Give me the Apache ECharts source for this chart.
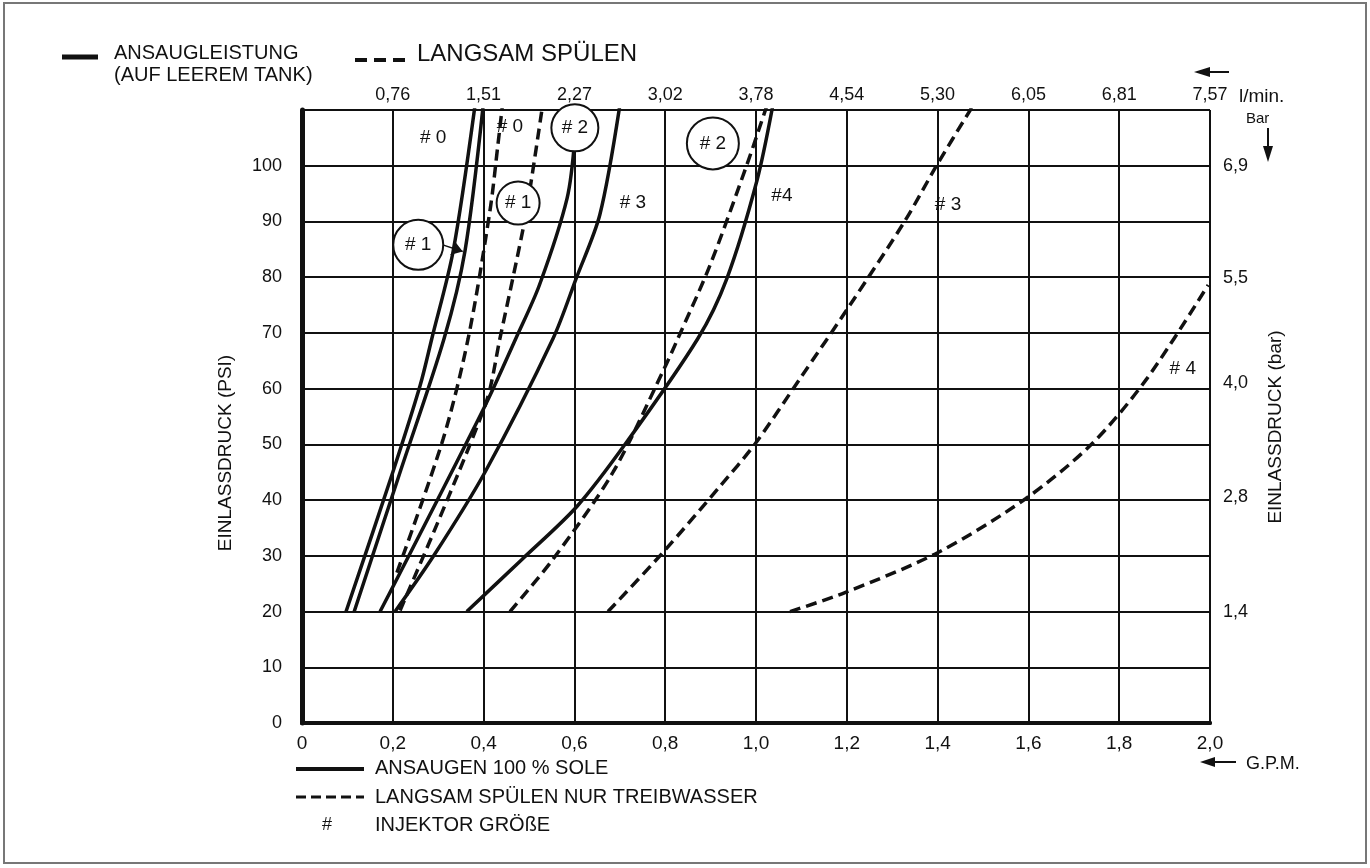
<!DOCTYPE html>
<html>
<head>
<meta charset="utf-8">
<style>
  html, body { margin: 0; padding: 0; background: #fff; }
  #chart { width: 1370px; height: 868px; }
</style>
<script src="https://cdn.jsdelivr.net/npm/echarts@6.0.0/dist/echarts.min.js"></script>
</head>
<body>
<div id="chart"></div>
<script>
// G.P.M. on x, PSI on y
var topTickLabels = ['0,76', '1,51', '2,27', '3,02', '3,78', '4,54', '5,30', '6,05', '6,81', '7,57']
var barTickPsi = [20, 40.6, 61, 79.8, 100]
var barTickLabels = ['1,4', '2,8', '4,0', '5,5', '6,9']

// ansaugen 100 % sole (solid)
var solid0 = [[0.097, 20], [0.200, 45], [0.260, 60.5], [0.286, 69], [0.333, 84.7], [0.381, 110.8]]
var solid1 = [[0.115, 20], [0.216, 45], [0.313, 69], [0.359, 84.7], [0.399, 110.8]]
var solid2 = [[0.172, 20], [0.403, 56.9], [0.471, 69], [0.523, 78.6], [0.584, 94.2], [0.601, 105]]
var solid3 = [[0.205, 20], [0.290, 30], [0.403, 45], [0.553, 69], [0.604, 79.8], [0.656, 91.2], [0.700, 110.8]]
var solid4 = [[0.363, 20], [0.485, 29.4], [0.606, 38.9], [0.716, 50.5], [0.872, 69], [0.936, 79.8], [1.002, 97.3], [1.037, 110.8]]

// langsam spuelen nur treibwasser (dashed)
var dash0 = [[0.209, 27], [0.311, 51], [0.366, 69], [0.414, 91.9], [0.432, 104.1], [0.441, 110.5]]
var dash1 = [[0.216, 20.2], [0.403, 56.9], [0.436, 69], [0.491, 90.3], [0.505, 97.3], [0.529, 110.3]]
var dash2 = [[0.458, 20], [0.553, 29.4], [0.685, 45], [0.795, 63.1], [0.828, 69], [0.899, 82.2], [0.980, 100.2], [1.024, 110.8]]
var dash3 = [[0.674, 20], [0.795, 30.6], [0.921, 42.5], [0.998, 50.1], [1.097, 61.8], [1.207, 75], [1.328, 90.1], [1.399, 100.2], [1.478, 110.8]]
var dash4 = [[1.075, 20], [1.196, 23.4], [1.401, 30.6], [1.593, 40.2], [1.740, 50.1], [1.861, 61.8], [1.996, 78.6]]

// injektor groesse labels
var sizeLabels = ['# 0', '# 0', '# 3', '#4', '# 3', '# 4']
var sizeLabelPos = [[0.289, 105], [0.458, 107], [0.729, 93.3], [1.057, 94.6], [1.423, 93], [1.940, 63.6]]
var circleLabels = ['# 2', '# 1', '# 1', '# 2']
var circlePos = [[0.601, 106.8], [0.476, 93.3], [0.256, 85.8], [0.905, 104]]
var circleSize = [47, 43, 50, 52]
var arrowLine = [[0.310, 85.8], [0.354, 84.6]]

var FONT = '"Liberation Sans", Arial, sans-serif'
var INK = '#111'

function curve(name, data, dashed) {
  return {
    name: name,
    type: 'line',
    data: data,
    smooth: 0.3,
    showSymbol: false,
    symbol: 'none',
    clip: true,
    z: 3,
    lineStyle: { color: INK, width: 3.5, type: dashed ? [11, 6] : 'solid', cap: 'butt' }
  }
}

var chart = echarts.init(document.getElementById('chart'))

chart.setOption({
  backgroundColor: '#fff',
  animation: false,
  textStyle: { fontFamily: FONT, color: INK },
  grid: { left: 302, right: 160, top: 110, bottom: 145, show: false },
  xAxis: [{
    type: 'value', min: 0, max: 2, interval: 0.2, position: 'bottom',
    axisLine: { show: true, lineStyle: { color: INK, width: 4 } },
    axisTick: { show: false },
    splitLine: { show: true, lineStyle: { color: INK, width: 2 } },
    axisLabel: {
      margin: 11, fontSize: 19, color: INK, fontFamily: FONT,
      formatter: function (v) { return v === 0 ? '0' : v.toFixed(1).replace('.', ',') }
    }
  }, {
    type: 'value', min: 0, max: 2, interval: 0.2, position: 'top',
    axisLine: { show: true, lineStyle: { color: INK, width: 4 } },
    axisTick: { show: false },
    splitLine: { show: false },
    axisLabel: {
      margin: 6, fontSize: 18, color: INK, fontFamily: FONT,
      formatter: function (v) {
        var i = Math.round(v / 0.2)
        return i > 0 ? topTickLabels[i - 1] : ''
      }
    }
  }],
  yAxis: [{
    type: 'value', min: 0, max: 110, interval: 10, position: 'left',
    axisLine: { show: true, lineStyle: { color: INK, width: 5 } },
    axisTick: { show: false },
    splitLine: { show: true, lineStyle: { color: INK, width: 2 } },
    axisLabel: {
      margin: 20, fontSize: 18, color: INK, fontFamily: FONT,
      formatter: function (v) { return v > 100 ? '' : String(v) }
    }
  }, {
    type: 'value', min: 0, max: 110, position: 'right',
    axisLine: { show: true, lineStyle: { color: INK, width: 3 } },
    axisTick: { show: false },
    splitLine: { show: false },
    axisLabel: {
      margin: 13, fontSize: 18, color: INK, fontFamily: FONT,
      customValues: barTickPsi,
      formatter: function (v) {
        var i = barTickPsi.indexOf(v)
        return i >= 0 ? barTickLabels[i] : ''
      }
    }
  }],
  series: [
    curve('#0', solid0, false),
    curve('#1', solid1, false),
    curve('#2', solid2, false),
    curve('#3', solid3, false),
    curve('#4', solid4, false),
    curve('#0 spuelen', dash0, true),
    curve('#1 spuelen', dash1, true),
    curve('#2 spuelen', dash2, true),
    curve('#3 spuelen', dash3, true),
    curve('#4 spuelen', dash4, true),
    {
      type: 'scatter', z: 6, symbolSize: 1, itemStyle: { color: 'rgba(0,0,0,0)', opacity: 1 },
      data: sizeLabelPos.map(function (p, i) { return { value: p, name: sizeLabels[i] } }),
      label: {
        show: true, position: 'inside', formatter: '{b}',
        fontSize: 19, color: INK, fontFamily: FONT
      }
    },
    {
      type: 'scatter', z: 8,
      data: circlePos.map(function (p, i) {
        return { value: p, name: circleLabels[i], symbolSize: circleSize[i] }
      }),
      itemStyle: { color: '#fff', borderColor: INK, borderWidth: 2, opacity: 1 },
      label: {
        show: true, position: 'inside', formatter: '{b}',
        fontSize: 19, color: INK, fontFamily: FONT
      }
    },
    {
      type: 'lines', coordinateSystem: 'cartesian2d', z: 7,
      symbol: ['none', 'arrow'], symbolSize: 11,
      lineStyle: { color: INK, width: 1.5, opacity: 1 },
      data: [{ coords: arrowLine }]
    }
  ],
  graphic: [
    { type: 'rect', shape: { x: 4, y: 3, width: 1362, height: 860 }, style: { fill: 'none', stroke: '#777', lineWidth: 2 } },
    // top legend
    { type: 'line', shape: { x1: 62, y1: 57, x2: 98, y2: 57 }, style: { stroke: INK, lineWidth: 5 } },
    { type: 'text', x: 114, y: 53, style: { text: 'ANSAUGLEISTUNG', font: '20px ' + FONT, fill: INK, verticalAlign: 'middle' } },
    { type: 'text', x: 114, y: 75, style: { text: '(AUF LEEREM TANK)', font: '20px ' + FONT, fill: INK, verticalAlign: 'middle' } },
    { type: 'line', shape: { x1: 355, y1: 60, x2: 411, y2: 60 }, style: { stroke: INK, lineWidth: 4, lineDash: [12, 7] } },
    { type: 'text', x: 417, y: 54, style: { text: 'LANGSAM SPÜLEN', font: '24px ' + FONT, fill: INK, verticalAlign: 'middle' } },
    // top unit + arrow
    { type: 'line', shape: { x1: 1206, y1: 72, x2: 1229, y2: 72 }, style: { stroke: INK, lineWidth: 2 } },
    { type: 'polygon', shape: { points: [[1194, 72], [1210, 67], [1210, 77]] }, style: { fill: INK } },
    { type: 'text', x: 1239, y: 97, style: { text: 'l/min.', font: '19px ' + FONT, fill: INK, verticalAlign: 'middle' } },
    { type: 'text', x: 1246, y: 119, style: { text: 'Bar', font: '15px ' + FONT, fill: INK, verticalAlign: 'middle' } },
    { type: 'line', shape: { x1: 1268, y1: 128, x2: 1268, y2: 150 }, style: { stroke: INK, lineWidth: 2 } },
    { type: 'polygon', shape: { points: [[1263, 146], [1273, 146], [1268, 162]] }, style: { fill: INK } },
    // axis names
    { type: 'text', x: 226, y: 453, rotation: Math.PI / 2, style: { text: 'EINLASSDRUCK (PSI)', font: '19px ' + FONT, fill: INK, align: 'center', verticalAlign: 'middle' } },
    { type: 'text', x: 1276, y: 427, rotation: Math.PI / 2, style: { text: 'EINLASSDRUCK (bar)', font: '19px ' + FONT, fill: INK, align: 'center', verticalAlign: 'middle' } },
    // bottom unit + arrow
    { type: 'line', shape: { x1: 1212, y1: 762, x2: 1236, y2: 762 }, style: { stroke: INK, lineWidth: 2 } },
    { type: 'polygon', shape: { points: [[1200, 762], [1215, 757], [1215, 767]] }, style: { fill: INK } },
    { type: 'text', x: 1246, y: 764, style: { text: 'G.P.M.', font: '18px ' + FONT, fill: INK, verticalAlign: 'middle' } },
    // bottom legend
    { type: 'line', shape: { x1: 296, y1: 769, x2: 364, y2: 769 }, style: { stroke: INK, lineWidth: 4 } },
    { type: 'text', x: 375, y: 768, style: { text: 'ANSAUGEN 100 % SOLE', font: '20px ' + FONT, fill: INK, verticalAlign: 'middle' } },
    { type: 'line', shape: { x1: 296, y1: 797, x2: 364, y2: 797 }, style: { stroke: INK, lineWidth: 3, lineDash: [10, 5] } },
    { type: 'text', x: 375, y: 797, style: { text: 'LANGSAM SPÜLEN NUR TREIBWASSER', font: '20px ' + FONT, fill: INK, verticalAlign: 'middle' } },
    { type: 'text', x: 327, y: 825, style: { text: '#', font: '18px ' + FONT, fill: INK, align: 'center', verticalAlign: 'middle' } },
    { type: 'text', x: 375, y: 825, style: { text: 'INJEKTOR GRÖßE', font: '20px ' + FONT, fill: INK, verticalAlign: 'middle' } }
  ]
})
</script>
</body>
</html>
